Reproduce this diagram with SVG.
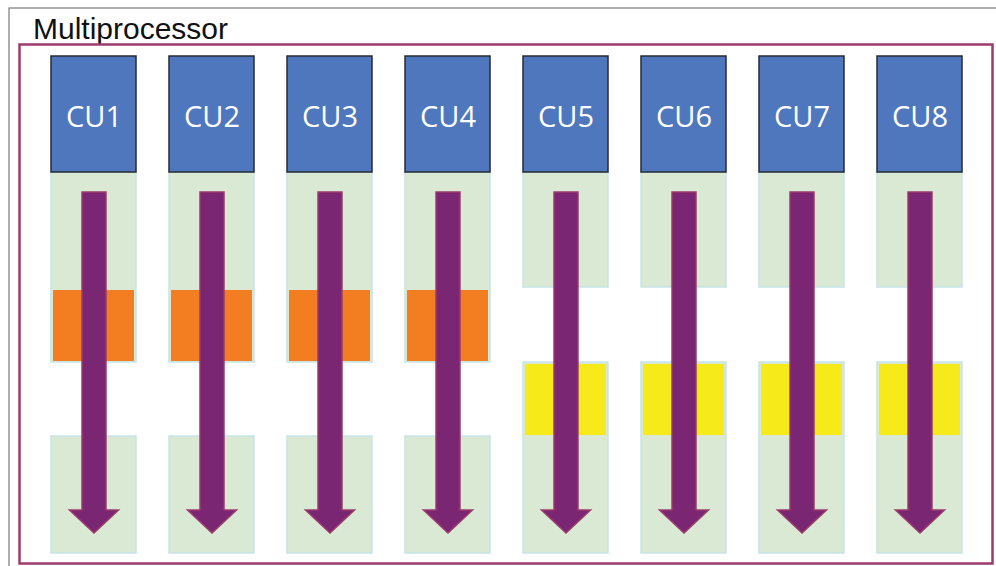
<svg xmlns="http://www.w3.org/2000/svg" width="996" height="566" viewBox="0 0 996 566">
<defs>
<style>
.frame{fill:none;stroke:#7a7a7a;stroke-width:1.2}
.mp{fill:none;stroke:#9b3b6c;stroke-width:2.5}
.title{font-family:"Liberation Sans",Arial,sans-serif;font-size:29.5px;fill:#111}
.cu{fill:#4f77bd;stroke:#262b33;stroke-width:1.5}
.cut{font-family:"Open Sans","Noto Sans","Liberation Sans",sans-serif;font-size:29px;fill:#fff;text-anchor:middle}
.g{fill:#d9e9d3;stroke:#c6e3e8;stroke-width:1.5}
.o{fill:#f37e21}
.y{fill:#f6ea1a}
.arr{fill:#7a2673;stroke:#9b3b6c;stroke-width:1.5;stroke-linejoin:miter}
</style>
<path id="arrow" class="arr" d="M-12,192 H12 V510 H24.5 L0,533 L-24.5,510 H-12 Z"/>
</defs>
<rect class="frame" x="9" y="8" width="1000" height="570"/>
<text class="title" x="33" y="39" textLength="195" lengthAdjust="spacingAndGlyphs">Multiprocessor</text>
<rect class="mp" x="19.5" y="44.5" width="973" height="519"/>

<g id="cu1"><rect class="g" x="51" y="172" width="85" height="190"/><rect class="o" x="53" y="290" width="81" height="71"/><rect class="g" x="51" y="436" width="85" height="117"/><rect class="cu" x="51" y="56" width="85" height="116"/><text class="cut" x="94" y="127">CU1</text></g>
<g id="cu2"><rect class="g" x="169" y="172" width="85" height="190"/><rect class="o" x="171" y="290" width="81" height="71"/><rect class="g" x="169" y="436" width="85" height="117"/><rect class="cu" x="169" y="56" width="85" height="116"/><text class="cut" x="212" y="127">CU2</text></g>
<g id="cu3"><rect class="g" x="287" y="172" width="85" height="190"/><rect class="o" x="289" y="290" width="81" height="71"/><rect class="g" x="287" y="436" width="85" height="117"/><rect class="cu" x="287" y="56" width="85" height="116"/><text class="cut" x="330" y="127">CU3</text></g>
<g id="cu4"><rect class="g" x="405" y="172" width="85" height="190"/><rect class="o" x="407" y="290" width="81" height="71"/><rect class="g" x="405" y="436" width="85" height="117"/><rect class="cu" x="405" y="56" width="85" height="116"/><text class="cut" x="448" y="127">CU4</text></g>
<g id="cu5"><rect class="g" x="523" y="172" width="85" height="115"/><rect class="g" x="523" y="362" width="85" height="191"/><rect class="y" x="525" y="364" width="81" height="71"/><rect class="cu" x="523" y="56" width="85" height="116"/><text class="cut" x="566" y="127">CU5</text></g>
<g id="cu6"><rect class="g" x="641" y="172" width="85" height="115"/><rect class="g" x="641" y="362" width="85" height="191"/><rect class="y" x="643" y="364" width="81" height="71"/><rect class="cu" x="641" y="56" width="85" height="116"/><text class="cut" x="684" y="127">CU6</text></g>
<g id="cu7"><rect class="g" x="759" y="172" width="85" height="115"/><rect class="g" x="759" y="362" width="85" height="191"/><rect class="y" x="761" y="364" width="81" height="71"/><rect class="cu" x="759" y="56" width="85" height="116"/><text class="cut" x="802" y="127">CU7</text></g>
<g id="cu8"><rect class="g" x="877" y="172" width="85" height="115"/><rect class="g" x="877" y="362" width="85" height="191"/><rect class="y" x="879" y="364" width="81" height="71"/><rect class="cu" x="877" y="56" width="85" height="116"/><text class="cut" x="920" y="127">CU8</text></g>

<g id="connectors">
<use href="#arrow" x="94" y="0"/>
<use href="#arrow" x="212" y="0"/>
<use href="#arrow" x="330" y="0"/>
<use href="#arrow" x="448" y="0"/>
<use href="#arrow" x="566" y="0"/>
<use href="#arrow" x="684" y="0"/>
<use href="#arrow" x="802" y="0"/>
<use href="#arrow" x="920" y="0"/>
</g>
</svg>
